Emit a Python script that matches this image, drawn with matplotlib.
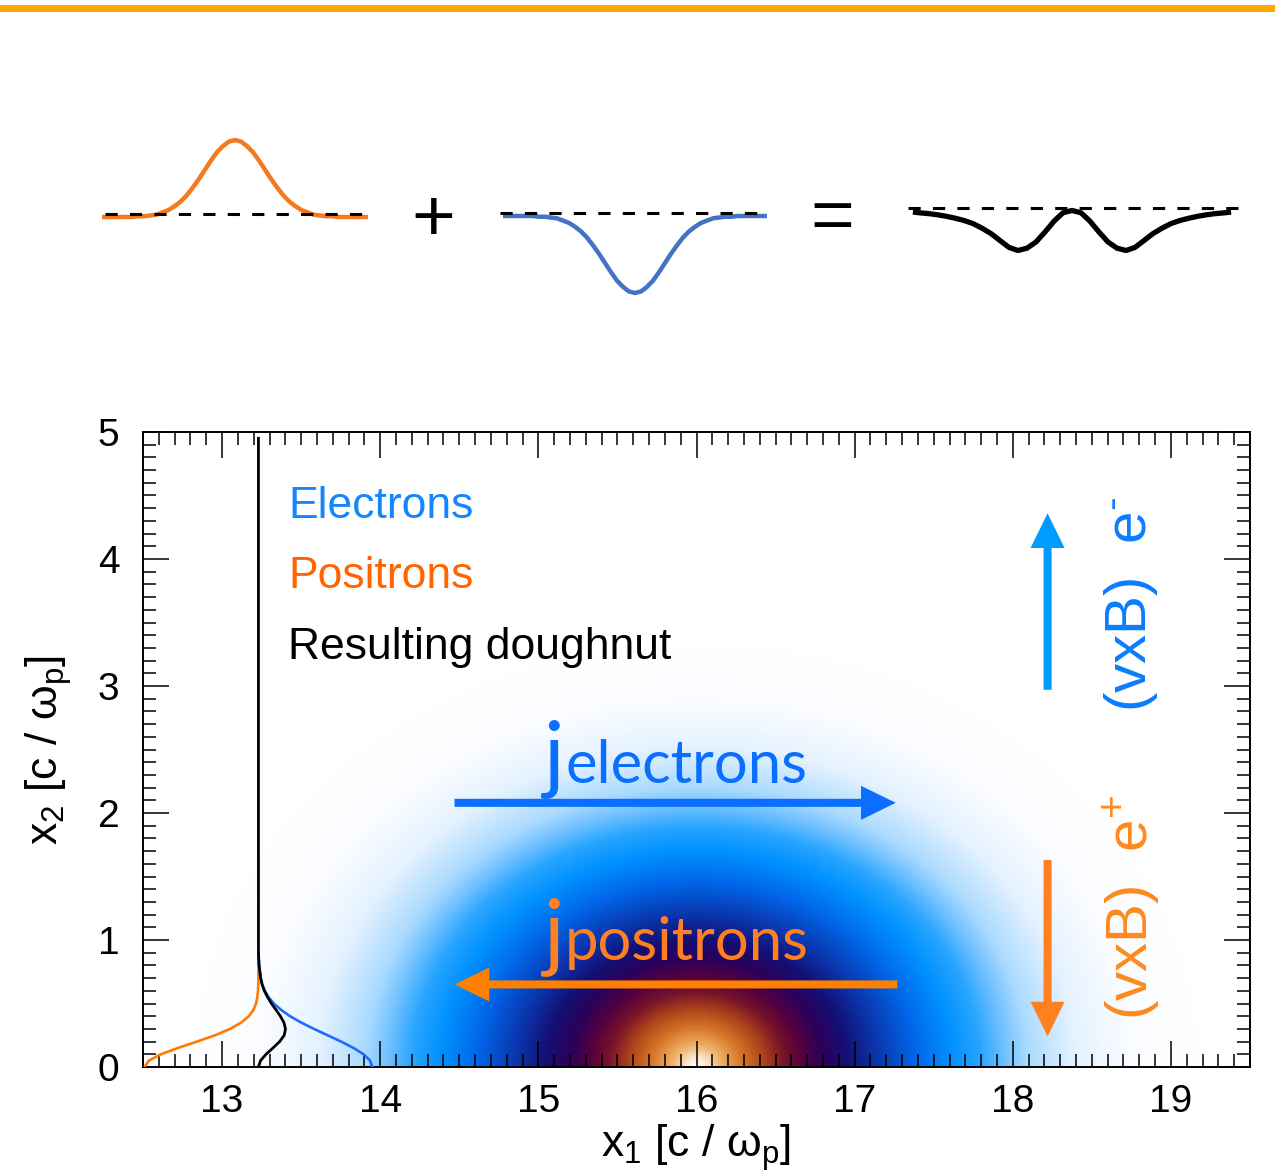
import numpy as np
import matplotlib
matplotlib.use('Agg')
import matplotlib.pyplot as plt
from matplotlib.colors import LinearSegmentedColormap
from matplotlib.patches import Rectangle
from matplotlib.ticker import MultipleLocator

plt.rcParams['font.family'] = ['Liberation Sans', 'DejaVu Sans']
plt.rcParams['mathtext.fontset'] = 'custom'
plt.rcParams['mathtext.rm'] = 'Liberation Sans'
plt.rcParams['mathtext.it'] = 'Liberation Sans'
plt.rcParams['mathtext.bf'] = 'Liberation Sans:bold'

# --- top schematic: single pulse shape (x in pulse widths) ---
pulse_x = np.linspace(-4.4, 4.4, 45)
pulse_y = [0.0, 0.0, 0.0, 0.0, 0.0, 0.0, 0.01, 0.01, 0.02, 0.03, 0.06, 0.09, 0.14, 0.2, 0.28,
           0.38, 0.49, 0.61, 0.73, 0.84, 0.92, 0.98, 1.0, 0.98, 0.92, 0.84, 0.73, 0.61, 0.49,
           0.38, 0.28, 0.2, 0.14, 0.09, 0.06, 0.03, 0.02, 0.01, 0.01, 0.0, 0.0, 0.0, 0.0, 0.0, 0.0]
# resulting double dip
sum_x = [-5.3, -5.1, -4.8, -4.5, -4.2, -3.9, -3.6, -3.3, -3.0, -2.7, -2.4, -2.1, -1.8, -1.5,
         -1.2, -0.9, -0.6, -0.3, 0.0, 0.3, 0.6, 0.9, 1.2, 1.5, 1.8, 2.1, 2.4, 2.7, 3.0, 3.3,
         3.6, 3.9, 4.2, 4.5, 4.8, 5.1, 5.3]
sum_y = [0.0, -0.01, -0.02, -0.035, -0.055, -0.08, -0.11, -0.15, -0.21, -0.28, -0.37, -0.46,
         -0.5, -0.47, -0.39, -0.26, -0.12, -0.01, 0.02, -0.01, -0.12, -0.26, -0.39, -0.47, -0.5,
         -0.46, -0.37, -0.28, -0.21, -0.15, -0.11, -0.08, -0.055, -0.035, -0.02, -0.01, 0.0]

# --- side profiles at the left of the main plot ---
prof_y = [0.0, 0.05, 0.1, 0.15, 0.2, 0.25, 0.3, 0.35, 0.4, 0.45, 0.5, 0.55, 0.6, 0.65, 0.7, 0.8, 0.9]
pos_prof_x = [12.51, 12.537, 12.613, 12.721, 12.841, 12.956, 13.051, 13.121, 13.169, 13.198,
              13.215, 13.223, 13.227, 13.229, 13.23, 13.23, 13.23]
ele_prof_x = [13.95, 13.936, 13.895, 13.831, 13.753, 13.667, 13.581, 13.5, 13.43, 13.373,
              13.327, 13.294, 13.27, 13.254, 13.244, 13.234, 13.23]
net_prof_x = [13.23, 13.243, 13.278, 13.322, 13.364, 13.393, 13.401, 13.391, 13.369, 13.341,
              13.312, 13.288, 13.267, 13.253, 13.244, 13.234, 13.23, 13.23]
net_prof_y = prof_y + [4.95]

# --- doughnut density: colour stops versus distance from the centre ---
blob_center = (16.0, 0.0)
blob_aspect = 1.05
blob_radii = [0.0, 0.06, 0.15, 0.28, 0.42, 0.55, 0.67, 0.8, 0.95, 1.15, 1.4, 1.62, 1.8, 1.95,
              2.1, 2.4, 2.75, 3.2]
blob_colors = [(255, 255, 250), (250, 232, 208), (240, 178, 105), (215, 120, 40), (175, 70, 25),
               (120, 20, 42), (85, 0, 62), (45, 0, 90), (20, 15, 115), (10, 55, 175),
               (0, 105, 235), (0, 145, 255), (40, 165, 255), (110, 192, 255), (170, 218, 255),
               (228, 242, 255), (250, 252, 255), (255, 255, 255)]

W, H = 1275, 1173


def px_box(x0, y0, x1, y1):
    return [x0 / W, 1 - y1 / H, (x1 - x0) / W, (y1 - y0) / H]


fig = plt.figure(figsize=(W / 100, H / 100), dpi=100)

# orange frame
fig.add_artist(Rectangle((-0.0015, -0.5), 2, 1.4928, transform=fig.transFigure,
                         fill=False, edgecolor='#FFA500', lw=5))

# top schematic
half = 120 / 77
ax1 = fig.add_axes(px_box(102, 217 - 120, 368, 217 + 120))
ax1.plot(pulse_x, pulse_y, color='#F47A20', lw=3.2, solid_capstyle='butt')
ax1.plot([-4.3, 4.3], [0.04, 0.04], color='black', lw=2.2, ls=(0, (4, 4)))
ax1.set_xlim(-4.4, 4.4)
ax1.set_ylim(-half, half)
ax1.axis('off')

ax2 = fig.add_axes(px_box(500, 216 - 120, 770, 216 + 120))
ax2.plot(pulse_x, [-v for v in pulse_y], color='#4472C4', lw=3.2, solid_capstyle='butt')
ax2.plot([-4.5, 4.4], [0.04, 0.04], color='black', lw=2.2, ls=(0, (4, 4)))
ax2.set_xlim(-4.5, 4.5)
ax2.set_ylim(-half, half)
ax2.axis('off')

ax3 = fig.add_axes(px_box(912, 212 - 120, 1232, 212 + 120))
ax3.plot(sum_x, sum_y, color='black', lw=3.8, solid_capstyle='butt')
ax3.plot([-5.45, 5.7], [0.05, 0.05], color='black', lw=2.2, ls=(0, (4, 4)), clip_on=False)
ax3.set_xlim(-5.33, 5.33)
ax3.set_ylim(-half, half)
ax3.axis('off')

fig.text(433 / W, 1 - 214 / H, '+', ha='center', va='center_baseline', fontsize=54)
fig.text(832 / W, 1 - 212 / H, '=', ha='center', va='center_baseline', fontsize=54)

# main plot
ax = fig.add_axes(px_box(143, 432, 1250, 1067))
xs = np.linspace(12.5, 19.5, 701)
ys = np.linspace(0, 5, 501)
X, Y = np.meshgrid(xs, ys)
R = np.hypot(X - blob_center[0], (Y - blob_center[1]) / blob_aspect)
r_max = blob_radii[-1]
cmap = LinearSegmentedColormap.from_list(
    'doughnut', [(r / r_max, tuple(c / 255 for c in col)) for r, col in zip(blob_radii, blob_colors)])
ax.imshow(R, extent=[12.5, 19.5, 0, 5], origin='lower', cmap=cmap, vmin=0, vmax=r_max,
          aspect='auto', interpolation='bilinear', zorder=0)

ax.plot(pos_prof_x, prof_y, color='#FF7A00', lw=1.9, zorder=3)
ax.plot(ele_prof_x, prof_y, color='#1E6CFF', lw=1.9, zorder=3)
ax.plot(net_prof_x, net_prof_y, color='black', lw=2.0, zorder=4)

ax.set_xlim(12.5, 19.5)
ax.set_ylim(0, 5)
ax.xaxis.set_major_locator(MultipleLocator(1))
ax.xaxis.set_minor_locator(MultipleLocator(0.1))
ax.yaxis.set_major_locator(MultipleLocator(1))
ax.yaxis.set_minor_locator(MultipleLocator(0.1))
ax.tick_params(which='both', direction='in', top=True, right=True, width=1.1)
ax.tick_params(which='major', length=18.7, labelsize=28)
ax.tick_params(which='minor', length=9.4)
ax.tick_params(axis='x', which='major', pad=12)
ax.tick_params(axis='y', which='major', pad=17)
for s in ax.spines.values():
    s.set_linewidth(1.4)
ax.set_xlabel(r'x$_1$ [c / ω$_{\rm p}$]', fontsize=32, labelpad=2)
ax.set_ylabel(r'x$_2$ [c / ω$_{\rm p}$]', fontsize=32, labelpad=17)

# legend-like labels
ax.text(13.42, 4.41, 'Electrons', color='#1487FF', fontsize=32, va='center', ha='left')
ax.text(13.42, 3.86, 'Positrons', color='#FF6400', fontsize=32, va='center', ha='left')
ax.text(13.42, 3.30, 'Resulting doughnut', color='black', fontsize=32, va='center', ha='left')

# currents
ax.text(15.03, 2.24, 'j', family='Lato', fontsize=62, color='#0A6EFF', va='baseline', ha='left')
ax.text(15.17, 2.24, 'electrons', family='Lato', fontsize=43, color='#0A6EFF', va='baseline', ha='left')
ax.text(15.03, 0.84, 'j', family='Lato', fontsize=62, color='#FF8020', va='baseline', ha='left')
ax.text(15.17, 0.84, 'positrons', family='Lato', fontsize=43, color='#FF8020', va='baseline', ha='left')


def arrow(tail, tip, color):
    ax.annotate('', xy=tip, xytext=tail,
                arrowprops=dict(arrowstyle='simple,head_length=25,head_width=24.5,tail_width=5.8',
                                mutation_scale=1, color=color, lw=0, shrinkA=0, shrinkB=0))


arrow((14.47, 2.08), (17.26, 2.08), '#0A6EFF')
arrow((17.27, 0.65), (14.47, 0.65), '#FF8000')
arrow((18.22, 2.97), (18.22, 4.36), '#009BFF')
arrow((18.22, 1.63), (18.22, 0.24), '#FF8020')

ax.text(18.75, 3.64, r'(vxB)  e$^{\text{-}}$', rotation=90, color='#0A7CFF', fontsize=42,
        ha='center', va='center')
ax.text(18.75, 1.26, r'(vxB)  e$^{+}$', rotation=90, color='#FF8A1E', fontsize=42,
        ha='center', va='center')

fig.savefig('out.png', dpi=100)
